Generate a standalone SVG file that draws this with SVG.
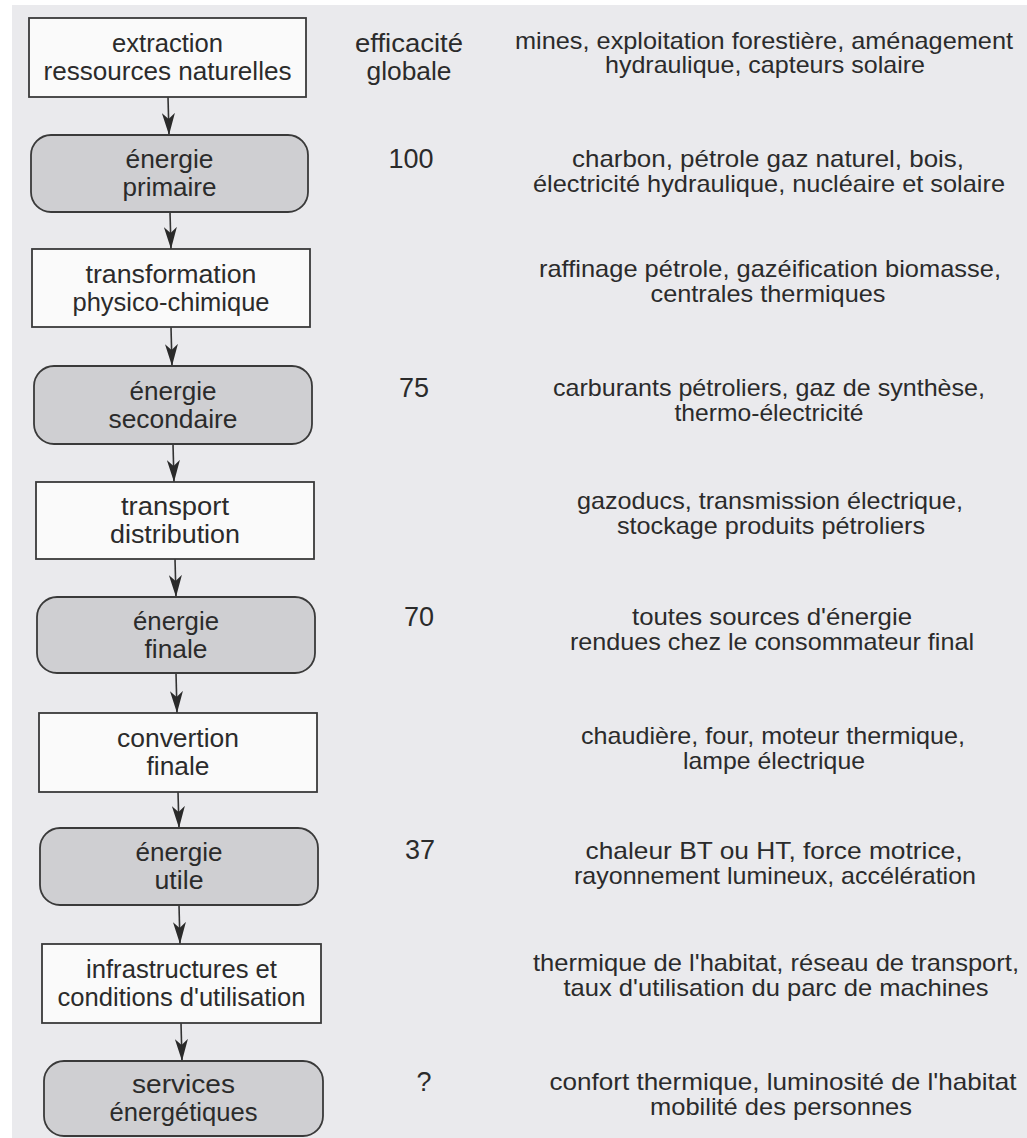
<svg xmlns="http://www.w3.org/2000/svg" width="1027" height="1138" viewBox="0 0 1027 1138">
<style>
.bg{fill:#eaeaed}
.box{fill:#fafafa;stroke:#3a3a3a;stroke-width:1.8}
.rbox{fill:#cfcfd2;stroke:#3a3a3a;stroke-width:1.8}
.lt{font-family:"Liberation Sans",Arial,sans-serif;font-size:25px;fill:#2b2b2b;text-anchor:middle}
.mt{font-family:"Liberation Sans",Arial,sans-serif;font-size:27px;fill:#2b2b2b;text-anchor:middle}
.rt{font-family:"Liberation Sans",Arial,sans-serif;font-size:24px;fill:#2b2b2b;text-anchor:middle}
.conn{stroke:#333;stroke-width:1.6;fill:none}
</style>
<defs>
<marker id="ah" viewBox="0 0 22 13" refX="22" refY="6.5" markerWidth="22" markerHeight="13" markerUnits="userSpaceOnUse" orient="auto">
<path d="M0,0 L22,6.5 L0,13 L6,6.5 Z" fill="#2a2a2a"/>
</marker>
</defs>
<rect x="0" y="0" width="1027" height="1138" fill="#ffffff"/>
<rect class="bg" x="12" y="5" width="1015" height="1133"/>

<g id="connectors">
<line class="conn" x1="168" y1="97" x2="169" y2="135" marker-end="url(#ah)"/>
<line class="conn" x1="170" y1="212" x2="171" y2="249" marker-end="url(#ah)"/>
<line class="conn" x1="171" y1="327" x2="172" y2="366" marker-end="url(#ah)"/>
<line class="conn" x1="173" y1="444" x2="174" y2="482" marker-end="url(#ah)"/>
<line class="conn" x1="175" y1="559" x2="176" y2="597" marker-end="url(#ah)"/>
<line class="conn" x1="176" y1="673" x2="177" y2="713" marker-end="url(#ah)"/>
<line class="conn" x1="178" y1="792" x2="179" y2="828" marker-end="url(#ah)"/>
<line class="conn" x1="179" y1="905" x2="180" y2="944" marker-end="url(#ah)"/>
<line class="conn" x1="181" y1="1023" x2="182" y2="1061" marker-end="url(#ah)"/>
</g>

<g id="header">
<text class="lt" x="409" y="52" textLength="108" lengthAdjust="spacingAndGlyphs">efficacité</text>
<text class="lt" x="409" y="80" textLength="85" lengthAdjust="spacingAndGlyphs">globale</text>
</g>

<g id="n1">
<rect class="box" x="29" y="18" width="277" height="79"/>
<text class="lt" x="167.5" y="52" textLength="111" lengthAdjust="spacingAndGlyphs">extraction</text>
<text class="lt" x="167.5" y="80" textLength="248" lengthAdjust="spacingAndGlyphs">ressources naturelles</text>
<text class="rt" x="764" y="48.5" textLength="498" lengthAdjust="spacingAndGlyphs">mines, exploitation forestière, aménagement</text>
<text class="rt" x="765" y="73" textLength="320" lengthAdjust="spacingAndGlyphs">hydraulique, capteurs solaire</text>
</g>

<g id="n2">
<rect class="rbox" x="31" y="135" width="277" height="77" rx="20" ry="20"/>
<text class="lt" x="169.5" y="168" textLength="88" lengthAdjust="spacingAndGlyphs">énergie</text>
<text class="lt" x="169.5" y="196" textLength="94" lengthAdjust="spacingAndGlyphs">primaire</text>
<text class="mt" x="411" y="168">100</text>
<text class="rt" x="768" y="167" textLength="392" lengthAdjust="spacingAndGlyphs">charbon, pétrole gaz naturel, bois,</text>
<text class="rt" x="769" y="191.5" textLength="472" lengthAdjust="spacingAndGlyphs">électricité hydraulique, nucléaire et solaire</text>
</g>

<g id="n3">
<rect class="box" x="32" y="249" width="278" height="78"/>
<text class="lt" x="171" y="282.5" textLength="171" lengthAdjust="spacingAndGlyphs">transformation</text>
<text class="lt" x="171" y="310.5" textLength="197" lengthAdjust="spacingAndGlyphs">physico-chimique</text>
<text class="rt" x="770" y="277" textLength="462" lengthAdjust="spacingAndGlyphs">raffinage pétrole, gazéification biomasse,</text>
<text class="rt" x="768" y="301.5" textLength="235" lengthAdjust="spacingAndGlyphs">centrales thermiques</text>
</g>

<g id="n4">
<rect class="rbox" x="34" y="366" width="278" height="78" rx="20" ry="20"/>
<text class="lt" x="173" y="399.5" textLength="87" lengthAdjust="spacingAndGlyphs">énergie</text>
<text class="lt" x="173" y="427.5" textLength="129" lengthAdjust="spacingAndGlyphs">secondaire</text>
<text class="mt" x="414" y="397">75</text>
<text class="rt" x="769" y="396" textLength="432" lengthAdjust="spacingAndGlyphs">carburants pétroliers, gaz de synthèse,</text>
<text class="rt" x="769" y="420.5" textLength="189" lengthAdjust="spacingAndGlyphs">thermo-électricité</text>
</g>

<g id="n5">
<rect class="box" x="36" y="482" width="278" height="77"/>
<text class="lt" x="175" y="515" textLength="108" lengthAdjust="spacingAndGlyphs">transport</text>
<text class="lt" x="175" y="543" textLength="130" lengthAdjust="spacingAndGlyphs">distribution</text>
<text class="rt" x="770" y="509" textLength="386" lengthAdjust="spacingAndGlyphs">gazoducs, transmission électrique,</text>
<text class="rt" x="771" y="533.5" textLength="308" lengthAdjust="spacingAndGlyphs">stockage produits pétroliers</text>
</g>

<g id="n6">
<rect class="rbox" x="37" y="597" width="278" height="76" rx="20" ry="20"/>
<text class="lt" x="176" y="629.5" textLength="86" lengthAdjust="spacingAndGlyphs">énergie</text>
<text class="lt" x="176" y="657.5" textLength="63" lengthAdjust="spacingAndGlyphs">finale</text>
<text class="mt" x="419" y="626">70</text>
<text class="rt" x="772" y="625" textLength="280" lengthAdjust="spacingAndGlyphs">toutes sources d'énergie</text>
<text class="rt" x="772" y="649.5" textLength="404" lengthAdjust="spacingAndGlyphs">rendues chez le consommateur final</text>
</g>

<g id="n7">
<rect class="box" x="39" y="713" width="278" height="79"/>
<text class="lt" x="178" y="747" textLength="122" lengthAdjust="spacingAndGlyphs">convertion</text>
<text class="lt" x="178" y="775" textLength="63" lengthAdjust="spacingAndGlyphs">finale</text>
<text class="rt" x="773" y="744" textLength="384" lengthAdjust="spacingAndGlyphs">chaudière, four, moteur thermique,</text>
<text class="rt" x="774" y="768.5" textLength="182" lengthAdjust="spacingAndGlyphs">lampe électrique</text>
</g>

<g id="n8">
<rect class="rbox" x="40" y="828" width="278" height="77" rx="20" ry="20"/>
<text class="lt" x="179" y="861" textLength="87" lengthAdjust="spacingAndGlyphs">énergie</text>
<text class="lt" x="179" y="889" textLength="49" lengthAdjust="spacingAndGlyphs">utile</text>
<text class="mt" x="420" y="859">37</text>
<text class="rt" x="774" y="859" textLength="377" lengthAdjust="spacingAndGlyphs">chaleur BT ou HT, force motrice,</text>
<text class="rt" x="775" y="883.5" textLength="402" lengthAdjust="spacingAndGlyphs">rayonnement lumineux, accélération</text>
</g>

<g id="n9">
<rect class="box" x="42" y="944" width="279" height="79"/>
<text class="lt" x="181.5" y="978" textLength="191" lengthAdjust="spacingAndGlyphs">infrastructures et</text>
<text class="lt" x="181.5" y="1006" textLength="248" lengthAdjust="spacingAndGlyphs">conditions d'utilisation</text>
<text class="rt" x="776" y="971" textLength="486" lengthAdjust="spacingAndGlyphs">thermique de l'habitat, réseau de transport,</text>
<text class="rt" x="776" y="995.5" textLength="425" lengthAdjust="spacingAndGlyphs">taux d'utilisation du parc de machines</text>
</g>

<g id="n10">
<rect class="rbox" x="44" y="1061" width="279" height="75" rx="20" ry="20"/>
<text class="lt" x="183.5" y="1093" textLength="103" lengthAdjust="spacingAndGlyphs">services</text>
<text class="lt" x="183.5" y="1121" textLength="148" lengthAdjust="spacingAndGlyphs">énergétiques</text>
<text class="mt" x="424" y="1091">?</text>
<text class="rt" x="783" y="1090" textLength="467" lengthAdjust="spacingAndGlyphs">confort thermique, luminosité de l'habitat</text>
<text class="rt" x="781" y="1114.5" textLength="262" lengthAdjust="spacingAndGlyphs">mobilité des personnes</text>
</g>
</svg>
